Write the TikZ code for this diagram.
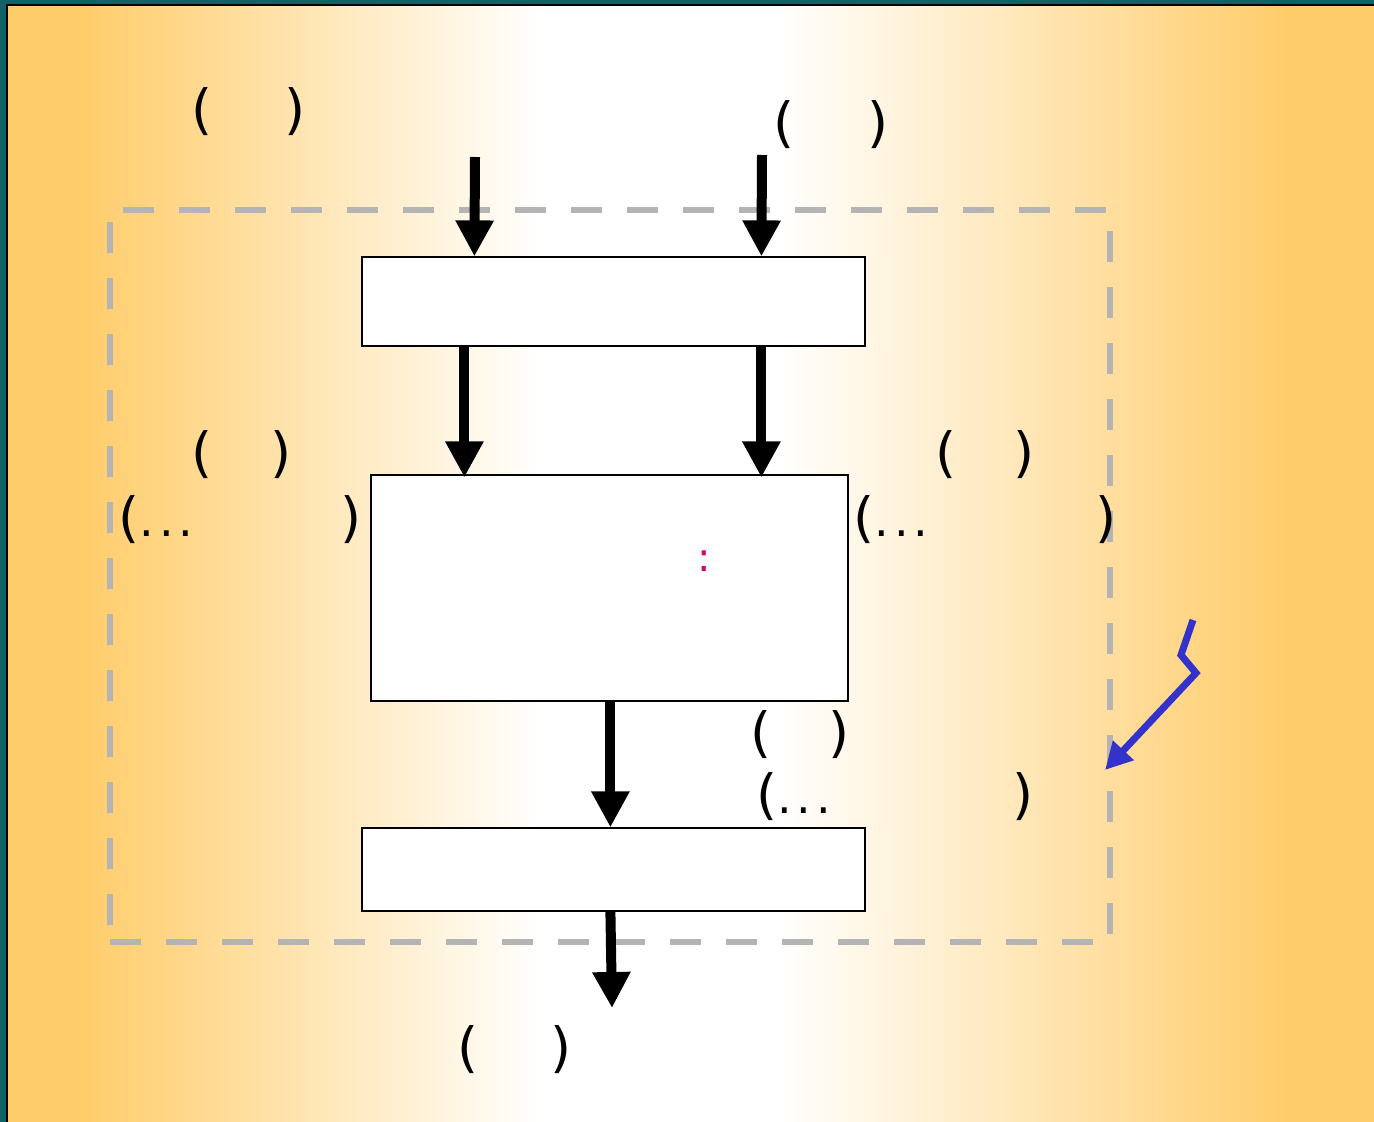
\documentclass[tikz,border=0pt]{standalone}
\usepackage{fontspec}
\setmainfont{DejaVu Sans}
\usetikzlibrary{arrows.meta}
\definecolor{orng}{RGB}{255,204,106}
\definecolor{tealbg}{RGB}{14,100,100}
\definecolor{grpgray}{RGB}{180,180,180}
\definecolor{bluearr}{RGB}{51,51,204}
\definecolor{magcol}{RGB}{214,0,110}
\pgfdeclarehorizontalshading{bgshade}{100bp}{color(0bp)=(orng); color(27.6bp)=(orng); color(44.5bp)=(white); color(53.2bp)=(white); color(71.9bp)=(orng); color(100bp)=(orng)}
\newcommand{\mydots}{{\fontsize{46}{50}\selectfont .\kern5pt.\kern5pt.}}
\tikzset{
  box/.style={draw=black, line width=1.2pt, fill=white, inner sep=0pt},
  flow/.style={draw=black, line width=10pt, -{Triangle[width=36pt,length=36pt]}, shorten >=0pt},
  lbl/.style={inner sep=0pt, font=\fontsize{54}{60}\selectfont},
}
\begin{document}
\begin{tikzpicture}[x=1pt,y=-1pt]
\useasboundingbox (0,0) rectangle (1374,1122);
% frame and background
\fill[tealbg] (0,0) rectangle (1374,1122);
\fill[black] (6,4) rectangle (1374,1122);
\shade[shading=bgshade] (8,6) rectangle (1374,1122);
% group rectangle
\node[draw=grpgray, line width=6pt, dash pattern=on 31pt off 25pt, minimum width=1000pt, minimum height=732pt, inner sep=0pt] (group) at (610,576) {};
% boxes
\node[box, minimum width=503pt, minimum height=89pt] (b1) at (613.5,301.5) {};
\node[box, minimum width=477pt, minimum height=226pt] (b2) at (609.5,588) {};
\node[box, minimum width=503pt, minimum height=83pt] (b3) at (613.5,869.5) {};
% free ends
\coordinate (in1) at (475,157);
\coordinate (in2) at (762,155);
\coordinate (out1) at (612,1008);
% connectors
\draw[flow] (in1) -- ([xshift=113pt]b1.north west);
\draw[flow] (in2) -- ([xshift=400pt]b1.north west);
\draw[flow] ([xshift=103pt]b1.south west) -- ([xshift=94pt,yshift=-3pt]b2.north west);
\draw[flow] ([xshift=400pt]b1.south west) -- ([xshift=391pt,yshift=-3pt]b2.north west);
\draw[flow] ([xshift=240pt]b2.south west) -- ([xshift=249pt]b3.north west);
\draw[flow] ([xshift=249pt]b3.south west) -- (out1);
% labels
\node[lbl] (l1) at (249,112) {(\hspace{72pt})};
\node[lbl] (l2) at (831,125) {(\hspace{73pt})};
\node[lbl] (l3) at (242,455) {(\hspace{58pt})};
\node[lbl] (l4) at (985,455) {(\hspace{56pt})};
\node[lbl] (l5) at (800,735) {(\hspace{57pt})};
\node[lbl] (l6) at (515,1050) {(\hspace{72pt})};
\node[lbl] (l7) at (240,520) {(\mydots\hspace{147pt})};
\node[lbl] (l8) at (985,520) {(\mydots\hspace{167pt})};
\node[lbl] (l9) at (895,797) {(\mydots\hspace{182pt})};
\node[inner sep=0pt, text=magcol, font=\fontsize{40}{44}\selectfont] (colon) at (704,561) {:};
% blue pointer
\coordinate (p0) at (1193,620);
\coordinate (p1) at (1181,655);
\coordinate (p2) at (1196,673);
\coordinate (p3) at (1105,770);
\draw[bluearr, line width=7pt, line join=miter, -{Triangle[width=27pt,length=27pt]}] (p0) -- (p1) -- (p2) -- (p3);
\end{tikzpicture}
\end{document}
